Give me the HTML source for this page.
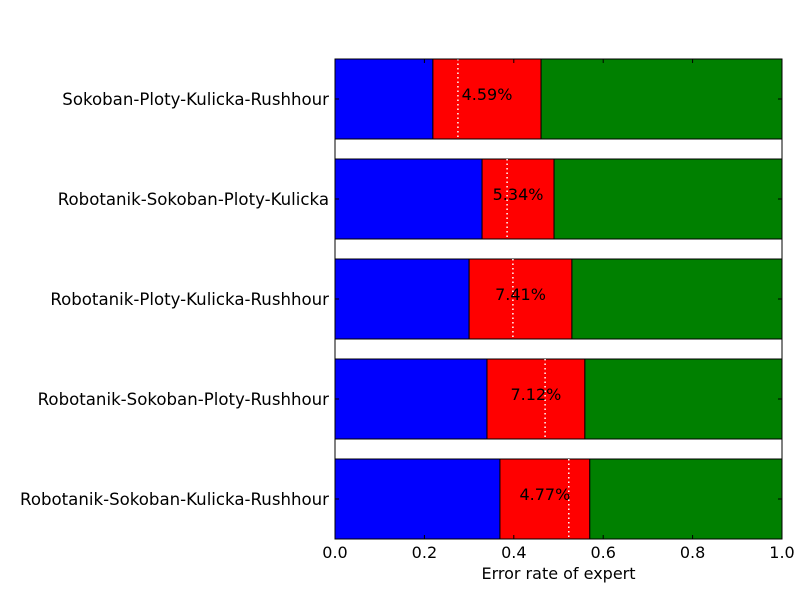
<!DOCTYPE html>
<html><head><meta charset="utf-8"><style>
body{margin:0;background:#fff;}
svg{display:block;font-family:"DejaVu Sans","Liberation Sans",sans-serif;}
</style></head><body>
<svg id="chart" width="800" height="600"></svg>
<script>
const categories=["Sokoban-Ploty-Kulicka-Rushhour","Robotanik-Sokoban-Ploty-Kulicka","Robotanik-Ploty-Kulicka-Rushhour","Robotanik-Sokoban-Ploty-Rushhour","Robotanik-Sokoban-Kulicka-Rushhour"];
const blueValues=[0.219,0.329,0.300,0.340,0.369];
const redEnds=[0.461,0.490,0.530,0.559,0.570];
const dottedValues=[0.275,0.385,0.398,0.470,0.523];
const percentLabels=["4.59%","5.34%","7.41%","7.12%","4.77%"];
const xTicks=[0,0.2,0.4,0.6,0.8,1.0];
const xTickLabels=["0.0","0.2","0.4","0.6","0.8","1.0"];

const svg=document.getElementById('chart');
const NS='http://www.w3.org/2000/svg';
const L=335,R=782,T=59,B=539;
const xs=v=>L+v*(R-L);
const slot=(B-T+20)/categories.length;
const ys=i=>T+i*slot;
function mk(tag,attrs,parent){const e=document.createElementNS(NS,tag);for(const k in attrs)e.setAttribute(k,attrs[k]);(parent||svg).appendChild(e);return e;}

categories.forEach((c,i)=>{
  const y=ys(i), h=slot*0.8;
  let e=mk('rect',{x:xs(0),y:y,width:xs(blueValues[i])-xs(0),height:h,fill:'#0000ff',stroke:'#000','stroke-width':1});
  
  
  e=mk('rect',{x:xs(blueValues[i]),y:y,width:xs(redEnds[i])-xs(blueValues[i]),height:h,fill:'#ff0000',stroke:'#000','stroke-width':1});
  
  
  e=mk('rect',{x:xs(redEnds[i]),y:y,width:xs(1)-xs(redEnds[i]),height:h,fill:'#008000',stroke:'#000','stroke-width':1});
  
  
  e=mk('line',{x1:xs(dottedValues[i]),x2:xs(dottedValues[i]),y1:y,y2:y+h,stroke:'#fff','stroke-width':1.5,'stroke-dasharray':'1.5,3'});
  
  
  e=mk('text',{x:(xs(blueValues[i])+xs(redEnds[i]))/2,y:y+h/2+1,'text-anchor':'middle','font-size':16,fill:'#000'});
  e.textContent=percentLabels[i];
  
  
  e=mk('text',{x:L-6,y:y+h/2+6,'text-anchor':'end','font-size':16.6,fill:'#000'});
  e.textContent=c;
  
  
  e=mk('line',{x1:L,x2:L+4,y1:y+h/2,y2:y+h/2,stroke:'#000'});
  
  
  e=mk('line',{x1:R,x2:R-4,y1:y+h/2,y2:y+h/2,stroke:'#000'});
  
  
});
let fr=mk('rect',{x:L,y:T,width:R-L,height:B-T,fill:'none',stroke:'#000','stroke-width':1});


xTicks.forEach((v,i)=>{
  let e=mk('line',{x1:xs(v),x2:xs(v),y1:B,y2:B-4,stroke:'#000'});
  
  
  e=mk('line',{x1:xs(v),x2:xs(v),y1:T,y2:T+4,stroke:'#000'});
  
  
  e=mk('text',{x:xs(v),y:B+19,'text-anchor':'middle','font-size':16,fill:'#000'});
  e.textContent=xTickLabels[i];
  
  
});
let xt=mk('text',{x:(L+R)/2,y:579,'text-anchor':'middle','font-size':16,fill:'#000'});
xt.textContent='Error rate of expert';


</script>
</body></html>
